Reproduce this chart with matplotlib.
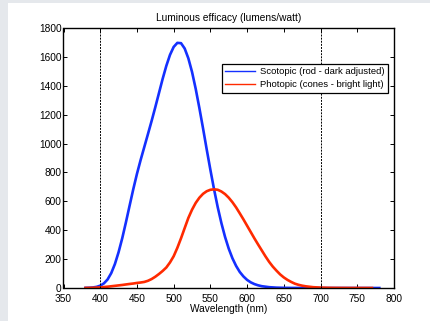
import numpy as np
import matplotlib
matplotlib.use("Agg")
import matplotlib.pyplot as plt
from matplotlib.patches import Rectangle

# ---------------------------------------------------------------------
# Data (lumens/watt vs wavelength in nm)
# ---------------------------------------------------------------------
wl_scotopic = [380, 385, 390, 395, 400, 405, 410, 415, 420, 425, 430, 435,
               440, 445, 450, 455, 460, 465, 470, 475, 480, 485, 490, 495,
               500, 505, 510, 515, 520, 525, 530, 535, 540, 545, 550, 555,
               560, 565, 570, 575, 580, 585, 590, 595, 600, 605, 610, 615,
               620, 630, 640, 650, 660, 680, 700, 740, 780]
scotopic = [1.0, 1.9, 3.8, 7.7, 16, 32, 59, 103, 166, 248, 345, 455,
            570, 684, 790, 886, 976, 1066, 1157, 1252, 1350, 1448, 1538, 1614,
            1669, 1697, 1695, 1658, 1590, 1496, 1379, 1246, 1105, 959, 818, 683,
            559, 449, 353, 272, 206, 153, 111, 80, 56, 39, 27, 18.5,
            12.5, 5.7, 2.5, 1.2, 0.5, 0.1, 0.03, 0.0, 0.0]

wl_photopic = [380, 390, 400, 410, 420, 430, 440, 445, 450, 455, 460, 465,
               470, 475, 480, 485, 490, 495, 500, 505, 510, 515, 520, 525,
               530, 535, 540, 545, 550, 555, 560, 565, 570, 575, 580, 585,
               590, 595, 600, 605, 610, 615, 620, 625, 630, 635, 640, 645,
               650, 655, 660, 665, 670, 675, 680, 690, 700, 710, 720, 740, 770]
photopic = [0.5, 1.5, 4, 9, 15, 21, 28, 31, 35, 38, 42, 50,
            62, 78, 97, 118, 142, 177, 220, 278, 344, 415, 485, 542,
            589, 625, 652, 670, 680, 683, 680, 668, 650, 625, 594, 558,
            517, 475, 431, 387, 343, 301, 260, 219, 181, 148, 120, 94,
            73, 56, 42, 30, 22, 16, 11.6, 5.6, 2.8, 1.4, 0.7, 0.17, 0.02]

WL_MARKS = [400, 700]

plt.rcParams["font.family"] = ["Liberation Sans", "DejaVu Sans"]

fig = plt.figure(figsize=(4.31, 3.21), dpi=100, facecolor="#e5e8ec")
# white page on the grey background
fig.patches.append(Rectangle((8 / 431, 0), 422 / 431, 318 / 321,
                             transform=fig.transFigure, facecolor="white",
                             edgecolor="none", zorder=-10))

ax = fig.add_axes([63.5 / 431, 33 / 321, 330.5 / 431, 260 / 321])
ax.set_facecolor("white")

ax.plot(wl_scotopic, scotopic, color="#1430ff", linewidth=1.9,
        label="Scotopic (rod - dark adjusted)")
ax.plot(wl_photopic, photopic, color="#ff2a00", linewidth=1.9,
        label="Photopic (cones - bright light)")

for w in WL_MARKS:
    ax.axvline(w, color="black", linewidth=0.7, linestyle=(0, (2, 1.2)))

ax.set_xlim(350, 800)
ax.set_ylim(0, 1800)
ax.set_xticks(np.arange(350, 801, 50))
ax.set_yticks(np.arange(0, 1801, 200))
ax.tick_params(direction="in", top=True, right=True, length=3, width=0.7,
               labelsize=7.3)
ax.tick_params(axis="x", pad=4)
ax.tick_params(axis="y", pad=1.5)
for s in ax.spines.values():
    s.set_linewidth(1.0)

ax.set_title("Luminous efficacy (lumens/watt)", fontsize=7.3, pad=5)
ax.set_xlabel("Wavelength (nm)", fontsize=7.3, labelpad=0.5)

leg = ax.legend(loc="upper right", bbox_to_anchor=(0.982, 0.8627),
                fontsize=6.8, frameon=True, fancybox=False, framealpha=1,
                handlelength=3.2, borderpad=0.35, labelspacing=0.45,
                handletextpad=0.5, borderaxespad=0)
leg.get_frame().set_edgecolor("black")
leg.get_frame().set_linewidth(0.9)
for line in leg.get_lines():
    line.set_linewidth(1.0)

fig.savefig("out.png", dpi=100, facecolor=fig.get_facecolor())
